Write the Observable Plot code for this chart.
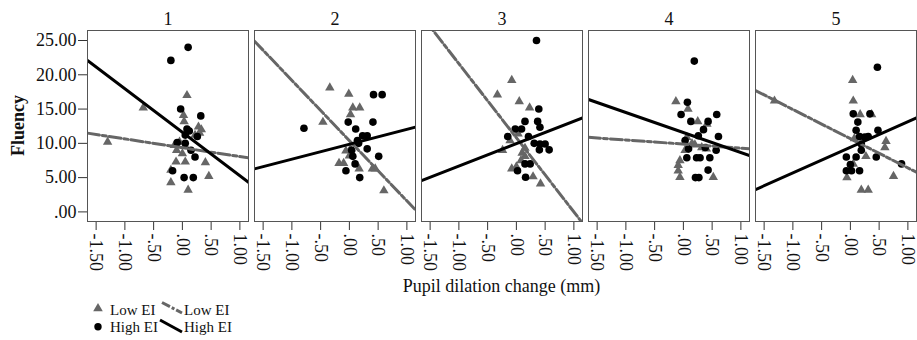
<!DOCTYPE html>
<html><head><meta charset="utf-8">
<script src="https://cdn.jsdelivr.net/npm/d3@7"></script>
<script src="https://cdn.jsdelivr.net/npm/@observablehq/plot@0.6"></script>
<style>
body{margin:0;background:#fff;}
#chart{position:relative;width:917px;height:340px;font-family:"Liberation Serif","Times New Roman",serif;}
#chart svg{display:block;}
</style></head><body><div id="chart"></div>
<script>
const panels = ["1","2","3","4","5"];

// Low EI (triangles) per panel: [pupil dilation change, fluency]
const low1 = [[-1.30,10.2],[-0.68,15.2],[0.08,17.0],[0.02,14.1],[0.03,13.2],[0.28,12.4],[0.33,12.0],[0.30,11.5],[-0.14,9.7],[-0.10,9.0],[0.00,8.5],[-0.11,7.3],[0.05,7.3],[0.40,7.2],[0.46,5.2],[-0.20,4.3],[0.10,3.2],[-0.20,6.1],[-0.05,10.2],[0.05,9.6],[0.22,11.2]];
const low2 = [[-0.34,18.1],[-0.01,17.2],[0.06,15.2],[0.18,15.2],[0.02,14.2],[-0.46,13.1],[-0.06,8.9],[0.02,9.2],[0.00,8.2],[-0.18,7.1],[-0.10,7.1],[0.17,6.3],[0.40,6.3],[0.45,6.3],[0.60,3.1]];
const low3 = [[-0.08,19.2],[-0.33,17.1],[0.05,16.1],[0.23,15.2],[0.03,11.4],[-0.11,10.4],[-0.24,9.0],[0.15,9.3],[0.10,8.6],[0.15,8.1],[0.08,7.5],[0.00,6.6],[-0.08,6.3],[0.29,5.15],[0.42,4.1]];
const low4 = [[-0.13,16.1],[0.08,15.0],[0.25,13.2],[0.41,12.8],[0.06,10.9],[0.03,9.0],[0.32,9.4],[0.40,9.2],[0.20,9.8],[-0.06,7.5],[-0.09,6.8],[-0.09,6.0],[-0.06,5.05],[0.52,5.05],[0.15,10.0]];
const low5 = [[-1.32,16.2],[0.04,19.2],[0.05,16.2],[0.17,14.2],[0.37,14.2],[0.07,10.7],[0.62,10.3],[0.60,9.4],[0.27,8.1],[0.05,7.0],[-0.06,5.0],[0.75,5.2],[0.19,3.2],[0.31,3.2]];

// High EI (circles) per panel
const high1 = [[0.10,24.0],[-0.20,22.1],[-0.03,15.0],[0.32,14.0],[0.08,12.1],[0.12,11.8],[0.26,11.0],[0.05,11.2],[-0.09,10.1],[0.05,10.0],[0.22,8.0],[-0.17,6.0],[0.03,5.0],[0.19,5.0],[0.15,9.0]];
const high2 = [[0.42,17.1],[0.57,17.1],[-0.79,12.2],[-0.02,13.1],[0.41,13.1],[0.11,12.1],[0.23,11.1],[0.31,11.1],[0.14,10.4],[0.16,10.0],[0.31,9.2],[0.04,9.0],[0.51,8.1],[0.06,8.1],[0.10,7.0],[-0.06,6.0],[0.18,5.0]];
const high3 = [[0.35,25.0],[0.39,15.0],[0.15,13.2],[0.37,13.2],[0.09,12.1],[-0.02,12.1],[0.41,12.35],[-0.15,11.0],[0.21,11.0],[0.31,10.0],[0.41,9.9],[0.50,9.9],[0.40,9.05],[0.57,9.05],[0.15,7.0],[0.24,7.0],[0.02,6.0],[0.16,5.05]];
const high4 = [[0.19,22.0],[0.07,16.0],[-0.04,14.2],[0.13,13.2],[0.43,13.2],[0.58,14.2],[0.35,12.0],[0.26,11.1],[0.03,10.4],[0.61,11.0],[0.09,9.2],[0.57,9.0],[0.06,7.9],[0.23,7.9],[0.29,7.9],[0.46,7.9],[0.43,6.1],[0.21,5.0],[0.27,5.0],[0.38,9.4]];
const high5 = [[0.47,21.1],[0.05,14.3],[0.34,14.3],[0.13,13.1],[0.10,11.9],[0.48,11.9],[0.16,11.0],[0.25,10.9],[0.31,11.0],[0.19,9.9],[0.19,9.0],[-0.07,8.0],[0.10,8.0],[0.45,8.0],[0.00,6.9],[-0.07,6.0],[0.02,6.0],[0.16,6.0],[0.89,7.0]];

// Fit lines (intercept at x = 0, slope) per panel
const lowIntercept = [9.36, 10.40, 10.81, 9.89, 10.68];
const lowSlope = [-1.29, -8.79, -10.81, -0.60, -4.26];
const highIntercept = [11.61, 9.86, 9.96, 11.58, 9.43];
const highSlope = [-6.35, 2.17, 3.27, -2.92, 3.74];

const xTicks = [-1.5, -1, -0.5, 0, 0.5, 1];
const xTickLabels = ["-1.50", "-1.00", "-.50", ".00", ".50", "1.00"];
const yTicks = [0, 5, 10, 15, 20, 25];
const yTickLabels = [".00", "5.00", "10.00", "15.00", "20.00", "25.00"];
const xDomain = [-1.65, 1.15];
const yDomain = [-1.4, 26.46];

const lowPoints = [low1, low2, low3, low4, low5];
const highPoints = [high1, high2, high3, high4, high5];
const toRows = sets => sets.flatMap((pts, i) => pts.map(([x, y]) => ({panel: panels[i], x, y})));
const lowData = toRows(lowPoints);
const highData = toRows(highPoints);
const fitRows = (ic, sl) => panels.flatMap((p, i) => xDomain.map(x => ({panel: p, x, y: ic[i] + sl[i] * x})));
const lowFit = fitRows(lowIntercept, lowSlope);
const highFit = fitRows(highIntercept, highSlope);

const font = "Liberation Serif, Times New Roman, serif";
const lowColor = "#666";
const lowDash = "12,3,4,3";
const plot = Plot.plot({
  width: 917, height: 298,
  marginLeft: 87, marginRight: 1, marginTop: 30, marginBottom: 77,
  style: {fontFamily: font, fontSize: "18px", color: "#111", background: "#fff"},
  fx: {domain: panels, paddingInner: 0.036, paddingOuter: 0},
  x: {domain: xDomain},
  y: {domain: yDomain},
  marks: [
    Plot.axisFx({anchor: "top", tickSize: 0, tickPadding: 6, label: null, fontSize: 18}),
    Plot.axisX({ticks: xTicks, tickFormat: d => xTickLabels[xTicks.indexOf(d)], tickRotate: 90, tickSize: 9, tickPadding: 3, label: null, fontSize: 18, stroke: "#333"}),
    Plot.axisY({ticks: yTicks, tickFormat: d => yTickLabels[yTicks.indexOf(d)], tickSize: 9, tickPadding: 2, label: null, fontSize: 18, stroke: "#333"}),
    Plot.dot(lowData, {x: "x", y: "y", fx: "panel", symbol: "triangle", r: 3.5, fill: lowColor, stroke: "none"}),
    Plot.dot(highData, {x: "x", y: "y", fx: "panel", symbol: "circle", r: 3.8, fill: "#000", stroke: "none"}),
    Plot.line(lowFit, {x: "x", y: "y", fx: "panel", z: "panel", stroke: lowColor, strokeWidth: 3, strokeDasharray: lowDash, clip: true}),
    Plot.line(highFit, {x: "x", y: "y", fx: "panel", z: "panel", stroke: "#000", strokeWidth: 3, clip: true}),
    Plot.frame({stroke: "#555", strokeWidth: 1})
  ]
});

const svg = d3.select(plot);
svg.append("text")
  .attr("transform", "translate(24,125.5) rotate(-90)")
  .attr("text-anchor", "middle")
  .attr("font-family", font).attr("font-size", 18).attr("font-weight", "bold").attr("fill", "#111")
  .text("Fluency");
svg.append("text")
  .attr("x", 501.5).attr("y", 292)
  .attr("text-anchor", "middle")
  .attr("font-family", font).attr("font-size", 18).attr("fill", "#111")
  .text("Pupil dilation change (mm)");

const chart = document.getElementById("chart");
chart.appendChild(plot);

// Legend below the plot
const legend = d3.select(chart).append("svg").attr("width", 917).attr("height", 42);
const lg = legend.append("g").attr("font-family", font).attr("font-size", 15).attr("fill", "#111");
lg.append("path").attr("d", d3.symbol(d3.symbolTriangle, 40)()).attr("transform", "translate(98,10.5)").attr("fill", lowColor);
lg.append("text").attr("x", 110).attr("y", 16.5).text("Low EI");
lg.append("line").attr("x1", 162).attr("y1", 4.5).attr("x2", 182).attr("y2", 15).attr("stroke", lowColor).attr("stroke-width", 3).attr("stroke-dasharray", "9,2,3,2");
lg.append("text").attr("x", 184).attr("y", 16.5).text("Low EI");
lg.append("circle").attr("cx", 98).attr("cy", 28.7).attr("r", 3.7).attr("fill", "#000");
lg.append("text").attr("x", 110).attr("y", 34).text("High EI");
lg.append("line").attr("x1", 160).attr("y1", 22).attr("x2", 182).attr("y2", 34).attr("stroke", "#000").attr("stroke-width", 3);
lg.append("text").attr("x", 184).attr("y", 34).text("High EI");
</script></body></html>
